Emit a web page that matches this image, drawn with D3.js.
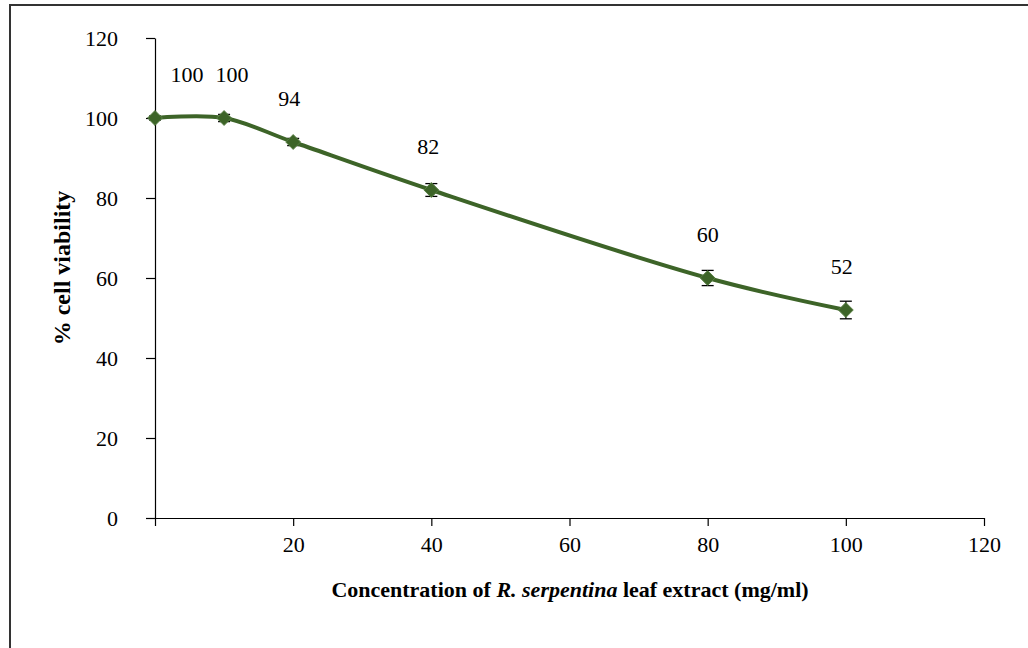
<!DOCTYPE html>
<html>
<head>
<meta charset="utf-8">
<script src="https://cdn.jsdelivr.net/npm/d3@7/dist/d3.min.js"></script>
<style>
  html, body { margin: 0; padding: 0; background: #fff; }
  svg { display: block; }
  text { font-family: "Liberation Serif", "Times New Roman", serif; fill: #000; }
</style>
</head>
<body>
<svg id="chart" width="1028" height="648"></svg>
<script>
// Concentration (mg/ml) and % cell viability with error bars
const concentrations = [0, 10, 20, 40, 80, 100];
const viability = [100, 100, 94, 82, 60, 52];
const viabilityError = [0.5, 0.9, 0.9, 1.6, 1.9, 2.2];
const xTicks = [0, 20, 40, 60, 80, 100, 120];
const yTicks = [0, 20, 40, 60, 80, 100, 120];

// horizontal nudges for the value labels so they don't overlap
const labelNudge = [32, 8, -4, -3, 0, -4];

const svg = d3.select("#chart");
const lineColor = "#3d6428";
const fontSize = 22;

// outer frame
svg.append("rect")
  .attr("x", 10).attr("y", 5)
  .attr("width", 1040).attr("height", 660)
  .attr("fill", "none")
  .attr("stroke", "#333")
  .attr("stroke-width", 2);

const x = d3.scaleLinear().domain([0, 120]).range([155, 984]);
const y = d3.scaleLinear().domain([0, 120]).range([518, 38]);

// x axis
const xAxis = svg.append("g")
  .attr("transform", `translate(0,${y(0)})`)
  .call(d3.axisBottom(x).tickValues(xTicks).tickSize(8).tickSizeOuter(0)
    .tickFormat(d => d === 0 ? "" : d));
xAxis.select(".domain").attr("stroke", "#000").attr("stroke-width", 1.2)
  .attr("d", `M${x(0) - 9},0.5H${x(120)}`);
xAxis.selectAll(".tick line").attr("stroke", "#000").attr("stroke-width", 1.2);
xAxis.selectAll(".tick text")
  .attr("y", 18)
  .attr("font-size", fontSize)
  .attr("font-family", "Liberation Serif, serif");

// y axis
const yAxis = svg.append("g")
  .attr("transform", `translate(${x(0)},0)`)
  .call(d3.axisLeft(y).tickValues(yTicks).tickSize(9).tickSizeOuter(0));
yAxis.select(".domain").attr("stroke", "#000").attr("stroke-width", 1.2);
yAxis.selectAll(".tick line").attr("stroke", "#000").attr("stroke-width", 1.2);
yAxis.selectAll(".tick text")
  .attr("x", -37)
  .attr("font-size", fontSize)
  .attr("font-family", "Liberation Serif, serif");

const points = concentrations.map((c, i) => ({ c, v: viability[i], e: viabilityError[i], i }));

// error bars
const err = svg.append("g").attr("stroke", "#000").attr("stroke-width", 1.3);
points.forEach(p => {
  err.append("line")
    .attr("x1", x(p.c)).attr("x2", x(p.c))
    .attr("y1", y(p.v + p.e)).attr("y2", y(p.v - p.e));
  [p.v + p.e, p.v - p.e].forEach(v => {
    err.append("line")
      .attr("x1", x(p.c) - 6).attr("x2", x(p.c) + 6)
      .attr("y1", y(v)).attr("y2", y(v));
  });
});

// smoothed line
const line = d3.line()
  .x(d => x(d.c))
  .y(d => y(d.v))
  .curve(d3.curveCatmullRom.alpha(0.5));

svg.append("path")
  .datum(points)
  .attr("d", line)
  .attr("fill", "none")
  .attr("stroke", lineColor)
  .attr("stroke-width", 4);

// diamond markers
svg.append("g").selectAll("path")
  .data(points)
  .join("path")
  .attr("transform", d => `translate(${x(d.c)},${y(d.v)})`)
  .attr("d", d3.symbol(d3.symbolDiamond2, 140)())
  .attr("fill", lineColor)
  .attr("stroke", "#587f44")
  .attr("stroke-width", 1);

// value labels
svg.append("g").selectAll("text")
  .data(points)
  .join("text")
  .attr("x", d => x(d.c) + labelNudge[d.i])
  .attr("y", d => y(d.v) - 36)
  .attr("text-anchor", "middle")
  .attr("font-size", fontSize)
  .text(d => d.v);

// axis titles
svg.append("text")
  .attr("transform", "translate(70,268) rotate(-90)")
  .attr("text-anchor", "middle")
  .attr("font-size", 24)
  .attr("font-weight", "bold")
  .text("% cell viability");

const xt = svg.append("text")
  .attr("x", 570)
  .attr("y", 597)
  .attr("text-anchor", "middle")
  .attr("font-size", fontSize)
  .attr("font-weight", "bold");
xt.append("tspan").text("Concentration of ");
xt.append("tspan").attr("font-style", "italic").text("R. serpentina");
xt.append("tspan").text(" leaf extract (mg/ml)");
</script>
</body>
</html>
